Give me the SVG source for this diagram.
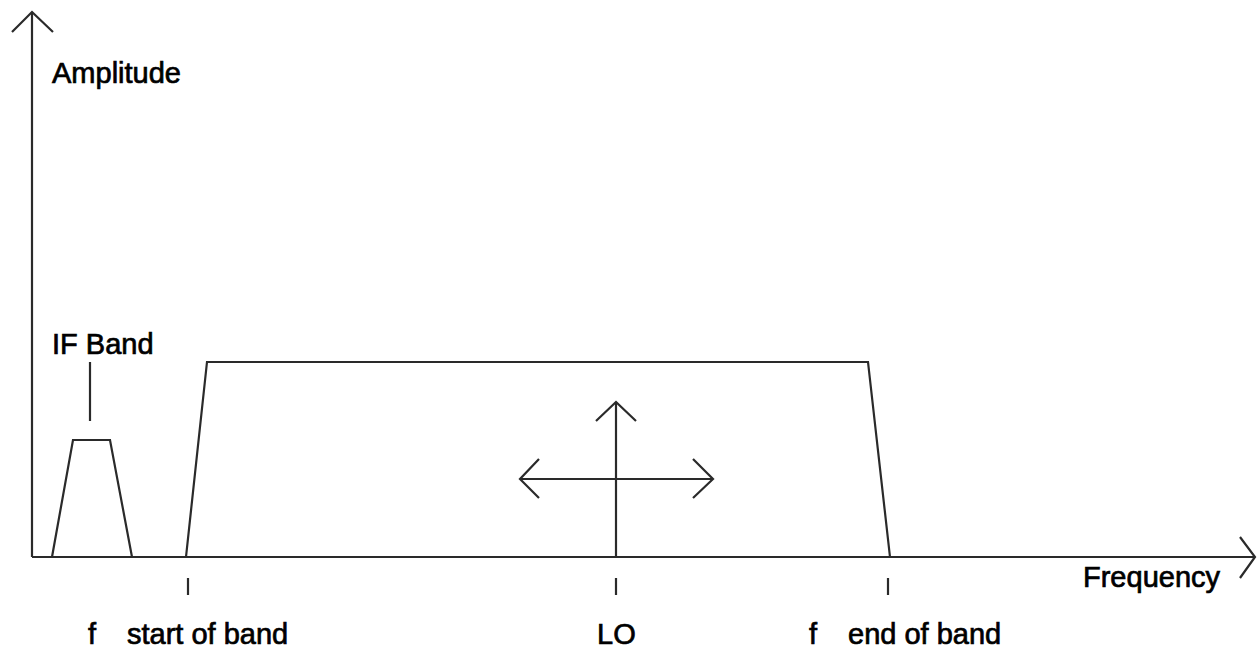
<svg xmlns="http://www.w3.org/2000/svg" width="1257" height="651" viewBox="0 0 1257 651">
<style>
.ln{fill:none;stroke:#2a2a2a;stroke-width:2.2;stroke-linejoin:miter;stroke-linecap:butt}
.t{font-family:"Liberation Sans",Arial,sans-serif;font-size:29px;fill:#000;stroke:#000;stroke-width:0.7}
</style>
<rect width="1257" height="651" fill="#fff"/>
<g id="connectors">
<g id="y-axis"><path class="ln" d="M32 557 V12"/><path class="ln" d="M12 32 L32 12 L53 32"/></g>
<g id="x-axis"><path class="ln" d="M32 557 H1255"/><path class="ln" d="M1240 537 L1255 557 L1240 578"/></g>
<g id="lo-arrows">
<path class="ln" d="M616 557 V402"/><path class="ln" d="M596 421 L616 402 L636 421"/>
<path class="ln" d="M520 479 H713"/><path class="ln" d="M539 459 L520 479 L539 498"/><path class="ln" d="M693 459 L713 479 L693 498"/>
</g>
<g id="ticks">
<path class="ln" d="M188 578 V595"/><path class="ln" d="M616 578 V595"/><path class="ln" d="M888 578 V595"/>
</g>
<path class="ln" d="M90 362 V421"/>
</g>
<g id="if-band"><path class="ln" d="M52 557 L73 440 H110 L132 557"/></g>
<g id="rf-band"><path class="ln" d="M186 557 L207 362 H868 L890 557"/></g>
<g id="labels">
<text class="t" x="52" y="83">Amplitude</text>
<text class="t" x="52" y="354">IF Band</text>
<text class="t" x="1083" y="587">Frequency</text>
<text class="t" x="88" y="644">f</text>
<text class="t" x="127" y="644">start of band</text>
<text class="t" x="597" y="644">LO</text>
<text class="t" x="809" y="644">f</text>
<text class="t" x="848" y="644">end of band</text>
</g>
</svg>
